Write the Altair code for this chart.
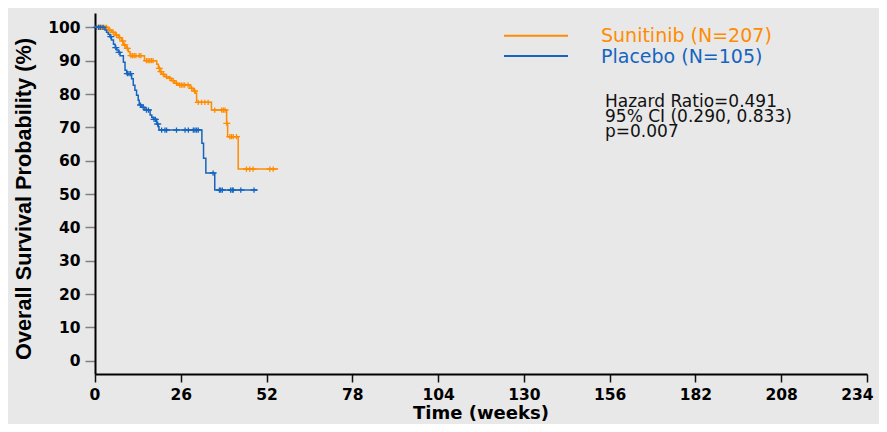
import altair as alt
import pandas as pd

# ---------------- data ----------------
groups = ["Sunitinib (N=207)", "Placebo (N=105)"]
colors = ["#ff8c00", "#1565c0"]

# Kaplan-Meier step curves (time in weeks, survival in %)
sun_t = [0, 4.0, 5.0, 6.1, 7.1, 8.1, 8.6, 9.4, 10.1, 10.6, 15.0, 18.7, 19.2, 19.7, 20.2,
         21.2, 22.2, 23.2, 24.2, 25.2, 28.8, 29.8, 30.5, 30.8, 35.3, 39.9, 40.2, 43.4, 55.5]
sun_s = [100, 99.2, 98.5, 97.7, 96.9, 95.9, 94.7, 93.7, 92.7, 91.5, 90.0, 88.9, 87.7, 86.7, 85.9,
         85.2, 84.7, 84.0, 83.2, 82.7, 81.7, 80.9, 80.2, 77.5, 75.2, 71.2, 67.2, 57.5, 57.5]
sun_cens = [0.5, 1.0, 1.5, 2.0, 2.5, 3.0, 3.5, 4.5, 5.5, 6.5, 7.5, 8.4, 9.0, 9.8, 10.9, 11.4,
            11.9, 12.4, 13.4, 13.9, 15.6, 16.1, 16.6, 17.1, 17.6, 19.5, 20.0, 20.7, 21.7, 22.7,
            23.7, 24.7, 25.7, 26.2, 26.7, 27.2, 28.2, 29.3, 30.2, 31.3, 32.3, 33.3, 34.3, 36.3,
            38.4, 38.9, 39.4, 39.95, 40.9, 41.4, 41.9, 42.9, 45.9, 46.9, 47.9, 53.0, 54.0]

pla_t = [0, 3.0, 3.5, 4.0, 4.5, 5.0, 5.6, 6.1, 6.6, 7.1, 7.6, 8.6, 9.1, 9.6, 11.1, 11.6, 12.1,
         12.6, 13.1, 13.4, 14.1, 15.1, 16.7, 17.2, 17.7, 18.7, 19.2, 19.4, 32.4, 32.9, 33.6, 36.3, 49.2]
pla_s = [100, 99.2, 98.5, 97.9, 97.2, 96.2, 94.9, 93.9, 93.2, 92.5, 91.5, 89.5, 87.1, 86.1, 84.6,
         82.6, 81.1, 79.6, 78.1, 76.7, 76.0, 75.2, 73.7, 73.0, 72.4, 71.0, 70.2, 69.2, 65.2, 60.7,
         56.3, 51.2, 51.2]
pla_cens = [0.4, 1.1, 1.6, 2.4, 4.8, 6.3, 7.3, 9.8, 10.3, 10.8, 13.8, 14.6, 15.6, 16.2, 17.9,
            18.3, 19.0, 20.2, 21.2, 21.7, 24.7, 27.3, 28.3, 29.8, 30.3, 30.8, 31.3, 35.8, 37.7,
            38.1, 38.6, 41.1, 41.6, 41.9, 44.2, 48.2]

x_ticks = [0, 26, 52, 78, 104, 130, 156, 182, 208, 234]
y_ticks = [0, 10, 20, 30, 40, 50, 60, 70, 80, 90, 100]

stats_lines = ["Hazard Ratio=0.491", "95% CI (0.290, 0.833)", "p=0.007"]
x_title = "Time (weeks)"
y_title = "Overall Survival Probability (%)"


def step_value(ts, ss, t):
    val = ss[0]
    for ti, si in zip(ts, ss):
        if ti <= t:
            val = si
    return val


curve_rows, cens_rows = [], []
for g, ts, ss, cs in [(groups[0], sun_t, sun_s, sun_cens), (groups[1], pla_t, pla_s, pla_cens)]:
    for t, s in zip(ts, ss):
        curve_rows.append({"group": g, "t": t, "s": s})
    for c in cs:
        cens_rows.append({"group": g, "t": c, "s": step_value(ts, ss, c)})
curves = pd.DataFrame(curve_rows)
cens = pd.DataFrame(cens_rows)

# ---------------- chart ----------------
W, H = 772, 361
FONT = "DejaVu Sans"
xscale = alt.Scale(domain=[0, 234], nice=False, zero=False)
yscale = alt.Scale(domain=[-4, 104.3], nice=False, zero=False)
cscale = alt.Scale(domain=groups, range=colors)

xaxis = alt.Axis(values=x_ticks, title=None, grid=False, domainColor="#000", domainWidth=2,
                 tickColor="#111", tickWidth=1.5, tickSize=8, labelFont=FONT,
                 labelFontWeight="bold", labelFontSize=15.5, labelColor="#000",
                 labelPadding=5, labelFlush=True, labelFlushOffset=6, labelOverlap=False)
yaxis = alt.Axis(values=y_ticks, title=None, grid=False, domainColor="#000", domainWidth=2,
                 tickColor="#808080", tickWidth=1.5, tickSize=10, labelFont=FONT,
                 labelFontWeight="bold", labelFontSize=15.5, labelColor="#000",
                 labelPadding=5, labelOverlap=False, labelFlush=False)

X = alt.X("t:Q", scale=xscale, axis=xaxis)
Y = alt.Y("s:Q", scale=yscale, axis=yaxis)
C = alt.Color("group:N", scale=cscale, legend=None)

layers = []
for g in groups:
    layers.append(
        alt.Chart(curves[curves.group == g]).mark_line(interpolate="step-after", strokeWidth=1.5)
        .encode(x=X, y=Y, color=C, order="t:Q")
    )
    layers.append(
        alt.Chart(cens[cens.group == g]).mark_point(
            shape="M-1,0L1,0M0,-0.75L0,0.75", size=49, filled=False, strokeWidth=1.3, opacity=1)
        .encode(x=X, y=Y, color=C)
    )

# legend (manual, coloured labels)
leg = pd.DataFrame({"group": groups})
for i, g in enumerate(groups):
    d = leg[leg.group == g]
    yy = 22.7 + i * 20.3
    layers.append(alt.Chart(d).mark_rule(strokeWidth=2, color=colors[i]).encode(
        x=alt.value(409), x2=alt.value(473), y=alt.value(yy)))
    layers.append(alt.Chart(d).mark_text(align="left", baseline="middle", font=FONT,
                                         fontSize=19, color=colors[i]).encode(
        x=alt.value(506), y=alt.value(yy + 0.5), text="group:N"))

# statistics block as one multi-line text
stats = pd.DataFrame({"k": ["stats"]})
layers.append(alt.Chart(stats).mark_text(
    align="left", baseline="alphabetic", font=FONT, fontSize=17, lineHeight=15,
    color="#111").encode(x=alt.value(510), y=alt.value(94.3), text=alt.value(stats_lines)))

titles = pd.DataFrame({"x": [x_title], "y": [y_title]})
layers.append(alt.Chart(titles).mark_text(
    align="center", baseline="alphabetic", font=FONT, fontWeight="bold", fontSize=18,
    color="#000").encode(x=alt.value(W / 2), y=alt.value(406), text="x:N"))
layers.append(alt.Chart(titles).mark_text(
    align="center", baseline="middle", font="Liberation Sans",
    fontWeight="bold", fontSize=21.7, angle=270, color="#000").encode(
    x=alt.value(-71), y=alt.value(186), text="y:N"))

chart = alt.layer(*layers).properties(
    width=W, height=H, autosize="none", background="#e8e8e8",
    padding={"left": 87, "top": 5, "right": 12, "bottom": 50},
).configure_view(stroke=None)

chart.save("out.html", embed_options={"renderer": "svg", "actions": False})
